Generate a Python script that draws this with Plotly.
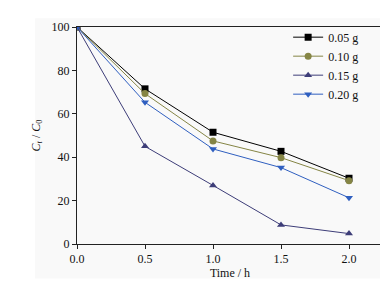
import plotly.graph_objects as go

time_h = [0.0, 0.5, 1.0, 1.5, 2.0]
series_names = ["0.05 g", "0.10 g", "0.15 g", "0.20 g"]
s005 = [100, 71.5, 51.5, 42.7, 30.3]
s010 = [100, 69.3, 47.5, 39.8, 29.2]
s015 = [100, 45.0, 27.0, 8.8, 4.8]
s020 = [100, 65.3, 43.8, 35.2, 21.3]

colors = ["#000000", "#858545", "#3d3d78", "#2f5fc0"]
symbols = ["square", "circle", "triangle-up", "triangle-down"]

SERIF = "Liberation Serif, Times New Roman, serif"
TXT = dict(family=SERIF, size=12, color="#111111")

fig = go.Figure()
for name, ys, c, s in zip(series_names, [s005, s010, s015, s020], colors, symbols):
    fig.add_trace(go.Scatter(x=time_h, y=ys, name=name, mode="lines+markers",
                             line=dict(color=c, width=1),
                             marker=dict(symbol=s, size=7, color=c)))

fig.update_layout(
    width=388, height=281,
    margin=dict(l=69, r=13, t=13, b=42),
    paper_bgcolor="white", plot_bgcolor="rgba(0,0,0,0)",
    font=TXT,
    showlegend=True,
    legend=dict(x=0.69, y=1.02, xanchor="left", yanchor="top",
                bgcolor="rgba(0,0,0,0)", itemwidth=30, tracegroupgap=0,
                font=TXT),
    shapes=[dict(type="rect", xref="paper", yref="paper", x0=-0.137, x1=1.016,
                 y0=-0.159, y1=1.04, fillcolor="#f9f9f9", line=dict(width=0),
                 layer="below")],
)
fig.update_xaxes(range=[0, 2.25], tickvals=[0, 0.5, 1.0, 1.5, 2.0],
                 ticktext=["0.0", "0.5", "1.0", "1.5", "2.0"],
                 tickfont=TXT,
                 ticks="outside", ticklen=4, tickwidth=1, tickcolor="#222",
                 showline=True, linecolor="#222", linewidth=1, mirror=True,
                 showgrid=False, zeroline=False,
                 title=dict(text="Time / h", standoff=2, font=TXT))
fig.update_yaxes(range=[0, 100], tickvals=[0, 20, 40, 60, 80, 100],
                 tickfont=TXT,
                 ticks="outside", ticklen=4, tickwidth=1, tickcolor="#222",
                 showline=True, linecolor="#222", linewidth=1, mirror=True,
                 showgrid=False, zeroline=False,
                 title=dict(text="<i>C</i><sub><i>t</i></sub> / <i>C</i><sub>0</sub>", standoff=8,
                            font=TXT))
fig.write_html("out.html")
